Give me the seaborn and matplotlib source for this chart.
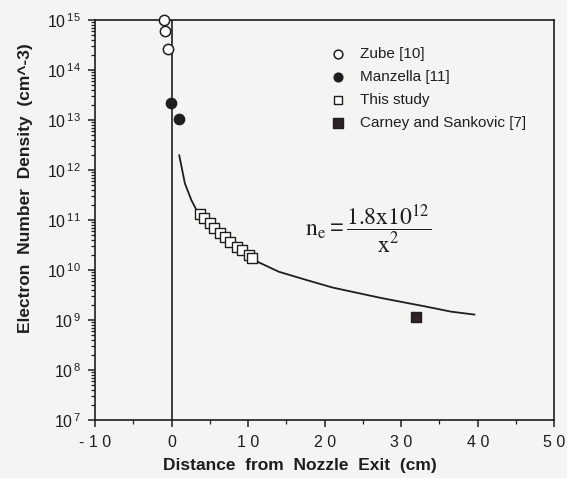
import matplotlib
matplotlib.use("Agg")
import matplotlib.pyplot as plt
import seaborn as sns
import numpy as np

# --- data ---
zube_x = [-1.0, -0.8, -0.5]
zube_y = [1.0e15, 6.0e14, 2.6e14]

manz_x = [-0.1, 1.0]
manz_y = [2.2e13, 1.05e13]

study_x = [3.7, 4.3, 5.0, 5.6, 6.3, 7.0, 7.6, 8.5, 9.2, 10.1, 10.5]
study_y = [1.32e11, 1.1e11, 8.7e10, 6.9e10, 5.5e10, 4.6e10, 3.6e10, 2.9e10, 2.5e10, 2.0e10, 1.74e10]

carney_x = [32.0]
carney_y = [1.15e9]

fit_x = [1.0, 1.75, 2.6, 3.5, 5.0, 7.0, 9.0, 11.2, 14.0, 17.7, 21.0, 24.3, 27.5, 30.8, 33.0, 36.5, 39.6]
fit_y = [2.0e12, 5.4e11, 2.5e11, 1.35e11, 6.9e10, 4.0e10, 2.4e10, 1.48e10, 9.3e9,
         6.3e9, 4.5e9, 3.5e9, 2.75e9, 2.2e9, 1.9e9, 1.48e9, 1.29e9]

xticks = [-10, 0, 10, 20, 30, 40, 50]
xtick_labels = ["- 1 0", "0", "1 0", "2 0", "3 0", "4 0", "5 0"]
yticks = [1e7, 1e8, 1e9, 1e10, 1e11, 1e12, 1e13, 1e14, 1e15]
ytick_labels = [r"10$^{\,%d}$" % e for e in range(7, 16)]

sns.set_style("ticks")
plt.rcParams['font.family'] = ['Liberation Sans', 'DejaVu Sans']
plt.rcParams['mathtext.fontset'] = 'custom'
plt.rcParams['mathtext.rm'] = 'Liberation Sans'
plt.rcParams['mathtext.default'] = 'regular'

bg = '#f4f4f2'
ink = '#1e1e1e'

fig = plt.figure(figsize=(5.67, 4.78), dpi=100, facecolor=bg)
ax = fig.add_axes([0.1675, 0.121, 0.81, 0.837], facecolor=bg)

ax.axvline(0, color=ink, lw=1.2, zorder=1)
sns.lineplot(x=fit_x, y=fit_y, ax=ax, color=ink, lw=1.3, zorder=2)

h1 = ax.scatter(zube_x, zube_y, marker='o', s=55, facecolor='white', edgecolor=ink, lw=1.1, zorder=4, clip_on=False)
h2 = ax.scatter(manz_x, manz_y, marker='o', s=55, facecolor=ink, edgecolor=ink, lw=1.0, zorder=4)
h3 = ax.scatter(study_x, study_y, marker='s', s=45, facecolor='white', edgecolor=ink, lw=1.0, zorder=3)
h4 = ax.scatter(carney_x, carney_y, marker='s', s=60, facecolor='#2e2228', edgecolor=ink, lw=1.0, zorder=4)

ax.set_yscale('log')
ax.set_xlim(-10, 50)
ax.set_ylim(1e7, 1e15)
ax.set_xticks(xticks)
ax.set_xticklabels(xtick_labels, fontsize=11.5)
ax.set_xticks([-5, 5, 15, 25, 35, 45], minor=True)
ax.set_yticks(yticks)
ax.set_yticklabels(ytick_labels, fontsize=11.5)

for s in ax.spines.values():
    s.set_color(ink)
    s.set_linewidth(1.2)
ax.tick_params(which='major', direction='out', length=5, width=1.1, color=ink, labelcolor=ink)
ax.tick_params(which='minor', direction='out', length=3, width=0.9, color=ink)
ax.tick_params(axis='x', pad=6)
ax.tick_params(axis='y', pad=5)

ax.set_xlabel("Distance  from  Nozzle  Exit  (cm)", fontsize=12.5, fontweight='bold', color=ink)
ax.xaxis.set_label_coords(0.447, -0.095)
ax.set_ylabel("Electron  Number  Density  (cm^-3)", fontsize=12.5, fontweight='bold', color=ink)
ax.yaxis.set_label_coords(-0.135, 0.58)

ax.legend([h1, h2, h3, h4],
          ["Zube [10]", "Manzella [11]", "This study", "Carney and Sankovic [7]"],
          loc='upper left', bbox_to_anchor=(0.483, 0.947), frameon=False,
          fontsize=11, handletextpad=0.45, labelspacing=0.58, markerscale=0.85,
          borderaxespad=0, labelcolor=ink)

ax.text(0.595, 0.48, r'$\mathrm{n_e} = \dfrac{\mathrm{1.8}{\mathrm{x}}\mathrm{10^{12}}}{\mathrm{x^2}}$',
        transform=ax.transAxes, ha='center', va='center', fontsize=17,
        math_fontfamily='stix', color=ink)

fig.savefig("out.png", dpi=100, facecolor=bg)
